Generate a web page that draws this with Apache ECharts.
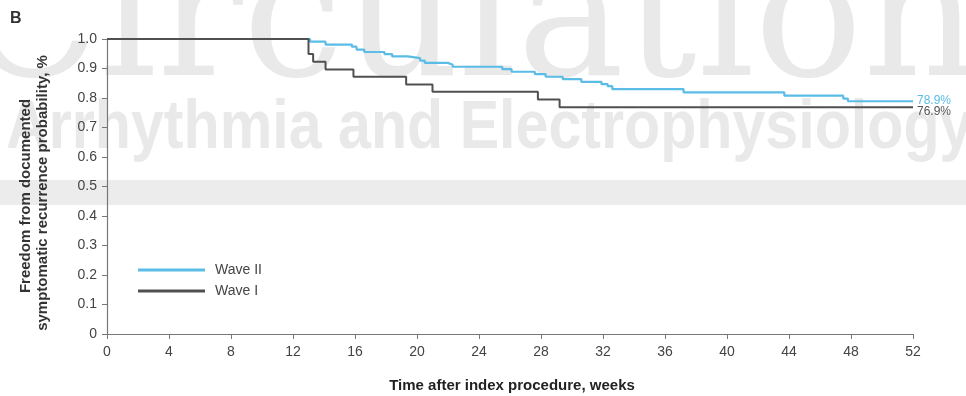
<!DOCTYPE html>
<html>
<head>
<meta charset="utf-8">
<script src="https://cdn.jsdelivr.net/npm/echarts@6/dist/echarts.min.js"></script>
<style>
  html, body { margin: 0; padding: 0; background: #fff; }
  #main { width: 966px; height: 396px; }
</style>
</head>
<body>
<div id="main"></div>
<script>
// Kaplan-Meier points: [week, survival] - value after the step at that week
var waveII = [
  [0, 1], [13.1, 0.991], [14.1, 0.981], [15.8, 0.974], [16.1, 0.964], [16.6, 0.956],
  [17.9, 0.949], [18.4, 0.941], [19.4, 0.935], [20.2, 0.927], [20.5, 0.919],
  [22.0, 0.913], [22.3, 0.906], [25.5, 0.898], [26.1, 0.889], [27.6, 0.881],
  [28.3, 0.872], [29.4, 0.864], [30.6, 0.855], [31.9, 0.847], [32.3, 0.840],
  [32.6, 0.830], [37.2, 0.819], [43.7, 0.808], [47.5, 0.798], [47.8, 0.789], [52, 0.789]
];
var waveI = [
  [0, 1], [13.0, 0.949], [13.3, 0.923], [14.1, 0.897], [15.9, 0.872], [19.3, 0.846],
  [21.0, 0.821], [27.8, 0.795], [29.2, 0.769], [52, 0.769]
];
var seriesNames = ['Wave II', 'Wave I'];
var endLabels = ['78.9%', '76.9%'];
var xTicks = { min: 0, max: 52, interval: 4 };
var yTicks = { min: 0, max: 1, interval: 0.1 };

var blue = '#5bbde6';
var grey = '#505050';
var wm = '#e9e9e9';

var chart = echarts.init(document.getElementById('main'), null, { renderer: 'canvas' });

var option = {
  animation: false,
  grid: { left: 107, right: 53, top: 39, bottom: 62 },
  xAxis: {
    type: 'value',
    min: xTicks.min, max: xTicks.max, interval: xTicks.interval,
    axisLine: { lineStyle: { color: '#777', width: 1.2 } },
    axisTick: { lineStyle: { color: '#777' }, length: 5 },
    axisLabel: { color: '#444', fontSize: 14, margin: 11, fontFamily: 'Liberation Sans Narrow, Liberation Sans, Arial' },
    splitLine: { show: false }
  },
  yAxis: {
    type: 'value',
    min: yTicks.min, max: yTicks.max, interval: yTicks.interval,
    axisLine: { show: true, lineStyle: { color: '#777', width: 1.2 } },
    axisTick: { show: true, lineStyle: { color: '#777' }, length: 5 },
    axisLabel: {
      color: '#444', fontSize: 14, margin: 10, fontFamily: 'Liberation Sans, Arial',
      formatter: function (v) { return v === 0 ? '0' : v.toFixed(1); }
    },
    splitLine: { show: false }
  },
  legend: {
    orient: 'vertical',
    left: 138, top: 263, padding: 0,
    itemWidth: 67, itemHeight: 3, itemGap: 7,
    icon: 'rect',
    textStyle: { color: '#444', fontSize: 14, fontFamily: 'Liberation Sans, Arial', padding: [0, 0, 0, 5] },
    data: seriesNames
  },
  series: [
    {
      name: seriesNames[0], type: 'line', step: 'end', data: waveII,
      showSymbol: false, symbol: 'none',
      lineStyle: { color: blue, width: 2.2 }, itemStyle: { color: blue },
      endLabel: { show: true, formatter: endLabels[0], color: blue, fontSize: 12, distance: 4, offset: [0, -1], fontFamily: 'Liberation Sans, Arial' },
      z: 2
    },
    {
      name: seriesNames[1], type: 'line', step: 'end', data: waveI,
      showSymbol: false, symbol: 'none',
      lineStyle: { color: grey, width: 2 }, itemStyle: { color: grey },
      endLabel: { show: true, formatter: endLabels[1], color: '#555', fontSize: 12, distance: 4, offset: [0, 5], fontFamily: 'Liberation Sans, Arial' },
      z: 3
    }
  ],
  graphic: [
    // journal watermark behind the plot
    { type: 'rect', z: -10, shape: { x: 0, y: 180, width: 966, height: 25 }, style: { fill: '#ececec' }, silent: true },
    { type: 'text', z: -10, x: 470, y: 118, silent: true,
      style: { text: 'Circulation', fill: wm, font: '180px "DejaVu Serif", serif', textAlign: 'center', textVerticalAlign: 'bottom' } },
    { type: 'text', z: -10, x: 6, y: 163, scaleX: 0.87, silent: true,
      style: { text: 'Arrhythmia and Electrophysiology', fill: wm, font: 'bold 68px "Liberation Sans", Arial', textAlign: 'left', textVerticalAlign: 'bottom' } },
    { type: 'text', x: 10, y: 11, style: { text: 'B', fill: '#333', font: 'bold 16px "Liberation Sans", Arial' } },
    { type: 'text', x: 26, y: 196, rotation: Math.PI / 2,
      style: { text: 'Freedom from documented', fill: '#333', font: 'bold 15px "Liberation Sans", Arial', textAlign: 'center', textVerticalAlign: 'middle' } },
    { type: 'text', x: 43, y: 193, rotation: Math.PI / 2,
      style: { text: 'symptomatic recurrence probability, %', fill: '#333', font: 'bold 15px "Liberation Sans", Arial', textAlign: 'center', textVerticalAlign: 'middle' } },
    { type: 'text', x: 512, y: 386,
      style: { text: 'Time after index procedure, weeks', fill: '#222', font: 'bold 15px "Liberation Sans Narrow", "Liberation Sans", Arial', textAlign: 'center', textVerticalAlign: 'middle' } }
  ]
};

chart.setOption(option);
window.addEventListener('resize', chart.resize);
</script>
</body>
</html>
